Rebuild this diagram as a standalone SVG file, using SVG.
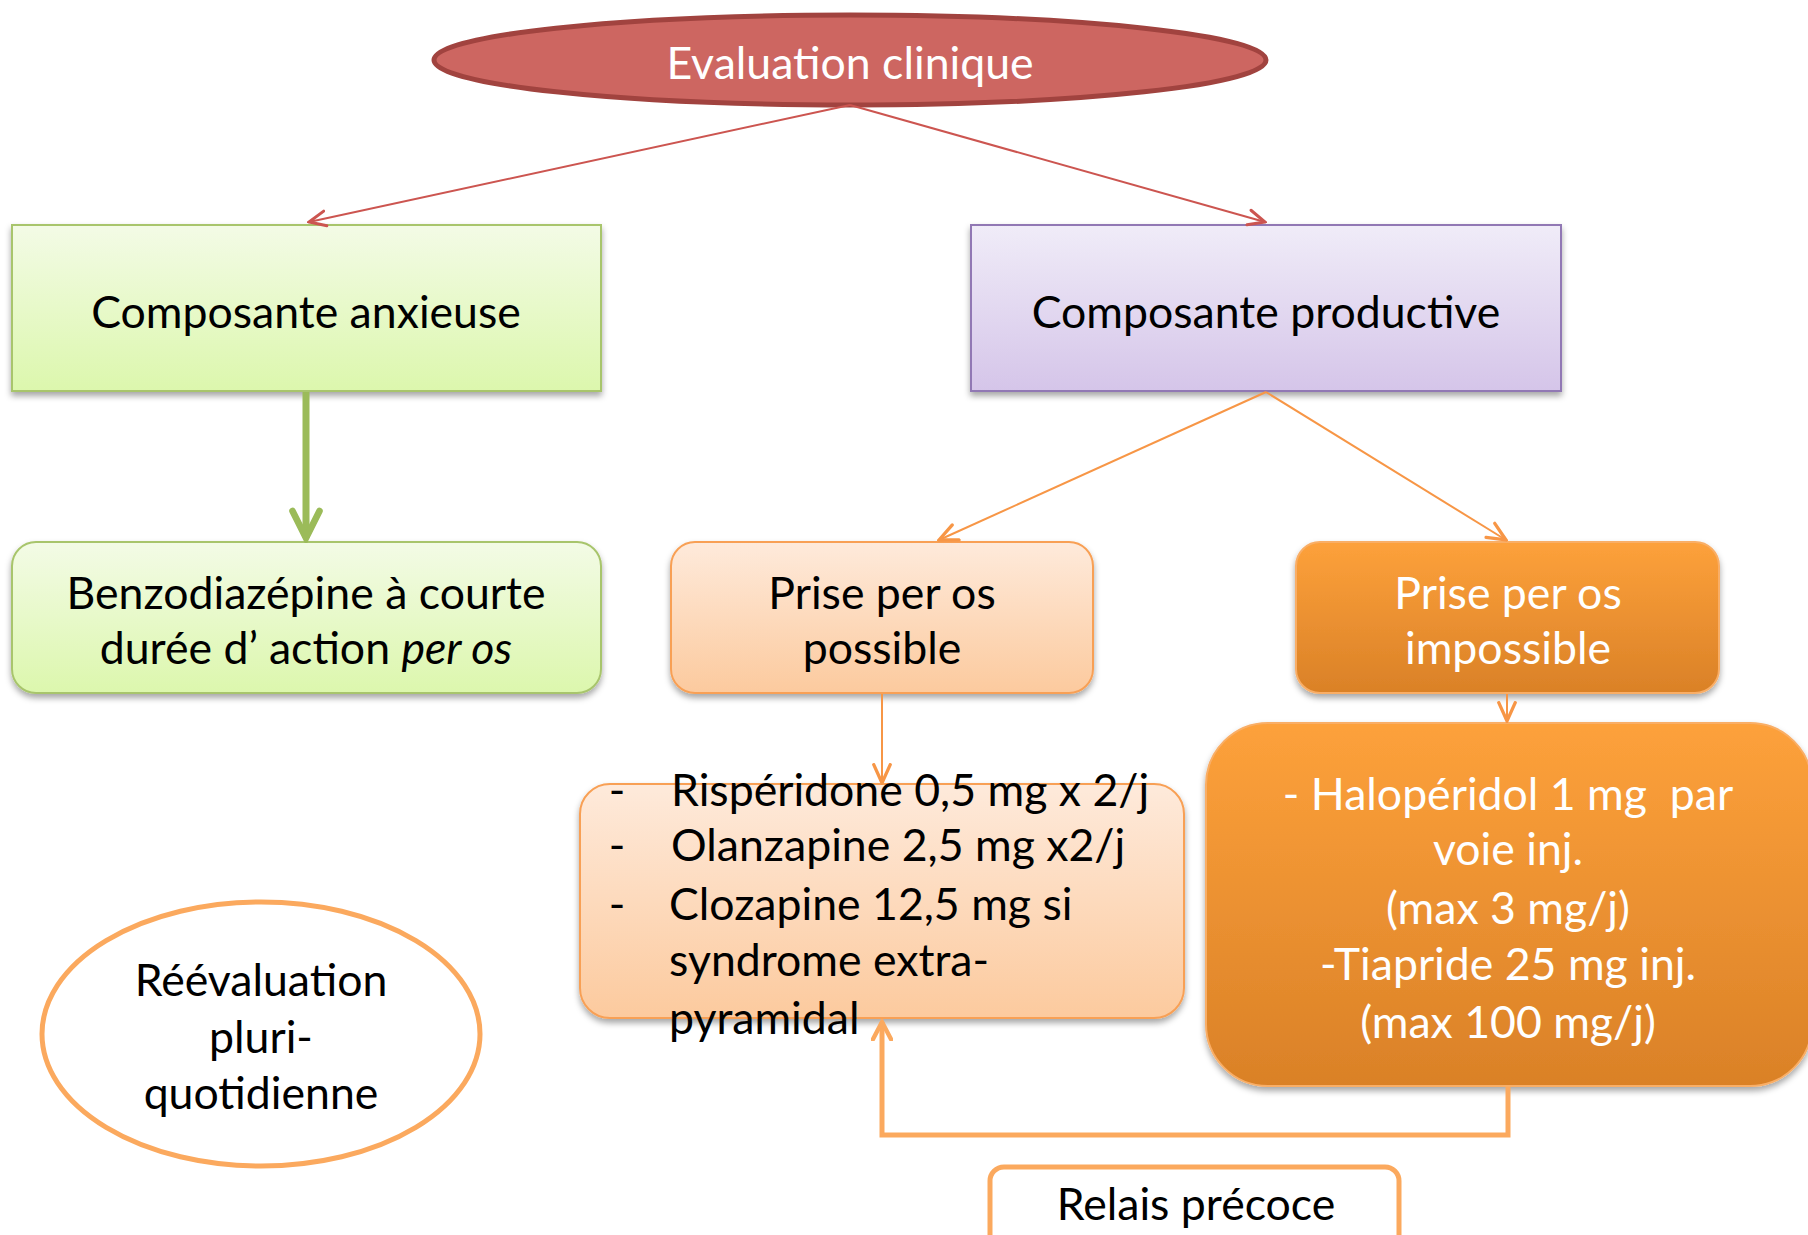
<svg xmlns="http://www.w3.org/2000/svg" width="1808" height="1235" viewBox="0 0 1808 1235">
<style>
text{font-family:Lato,"Liberation Sans",sans-serif;font-size:44.6px;text-anchor:middle;fill:#000}
.w{fill:#fff}
.l{text-anchor:start}
.it{font-style:italic}
.pre{white-space:pre}
</style>
<defs>
<linearGradient id="gGreen" x1="0" y1="0" x2="0" y2="1"><stop offset="0" stop-color="#F3FBE6"/><stop offset="1" stop-color="#DCF7AD"/></linearGradient>
<linearGradient id="gPurple" x1="0" y1="0" x2="0" y2="1"><stop offset="0" stop-color="#F0ECF8"/><stop offset="1" stop-color="#D5C5E9"/></linearGradient>
<linearGradient id="gLight" x1="0" y1="0" x2="0" y2="1"><stop offset="0" stop-color="#FEEADB"/><stop offset="1" stop-color="#FCCA9E"/></linearGradient>
<linearGradient id="gDark" x1="0" y1="0" x2="0" y2="1"><stop offset="0" stop-color="#FDA13B"/><stop offset="1" stop-color="#DA8127"/></linearGradient>
<filter id="sh" x="-10%" y="-10%" width="120%" height="130%"><feDropShadow dx="0" dy="4" stdDeviation="3" flood-color="#000" flood-opacity="0.35"/></filter>
<marker id="aRed" viewBox="0 0 12 12" refX="11" refY="6" markerWidth="20" markerHeight="20" markerUnits="userSpaceOnUse" orient="auto"><path d="M1,1.5 L11,6 L1,10.5" fill="none" stroke="#CC5550" stroke-width="1.8" stroke-linecap="round"/></marker>
<marker id="aOr" viewBox="0 0 12 12" refX="11" refY="6" markerWidth="22" markerHeight="22" markerUnits="userSpaceOnUse" orient="auto"><path d="M1,1.5 L11,6 L1,10.5" fill="none" stroke="#F79646" stroke-width="1.8" stroke-linecap="round"/></marker>
<marker id="aOr2" viewBox="0 0 12 12" refX="10.5" refY="6" markerWidth="22" markerHeight="22" markerUnits="userSpaceOnUse" orient="auto"><path d="M1,1 L10.5,6 L1,11" fill="none" stroke="#FBA95E" stroke-width="2.4" stroke-linecap="round"/></marker>
<marker id="aGreen" viewBox="0 0 12 12" refX="10.5" refY="6" markerWidth="36" markerHeight="36" markerUnits="userSpaceOnUse" orient="auto"><path d="M1.5,1.5 L10.5,6 L1.5,10.5" fill="none" stroke="#9BBB59" stroke-width="2.2" stroke-linecap="round"/></marker>
</defs>

<g id="evaluation">
<ellipse cx="850" cy="60" rx="416" ry="45" fill="#CD6661" stroke="#A1433F" stroke-width="5"/>
<text class="w" x="850" y="79">Evaluation clinique</text>
</g>

<g id="anxieuse">
<rect x="12" y="225" width="589" height="166" fill="url(#gGreen)" stroke="#A8C56C" stroke-width="2" filter="url(#sh)"/>
<text x="306" y="328">Composante anxieuse</text>
</g>

<g id="productive">
<rect x="971" y="225" width="590" height="166" fill="url(#gPurple)" stroke="#9178B4" stroke-width="2" filter="url(#sh)"/>
<text x="1266" y="328">Composante productive</text>
</g>

<g id="benzodiazepine">
<rect x="12" y="542" width="589" height="151" rx="24" fill="url(#gGreen)" stroke="#A8C56C" stroke-width="2" filter="url(#sh)"/>
<text x="306" y="609">Benzodiazépine à courte</text>
<text x="306" y="664">durée d’ action <tspan class="it">per os</tspan></text>
</g>

<g id="possible">
<rect x="671" y="542" width="422" height="151" rx="24" fill="url(#gLight)" stroke="#F8A055" stroke-width="2" filter="url(#sh)"/>
<text x="882" y="609">Prise per os</text>
<text x="882" y="664">possible</text>
</g>

<g id="impossible">
<rect x="1296" y="542" width="423" height="151" rx="24" fill="url(#gDark)" stroke="#F9AE66" stroke-width="2" filter="url(#sh)"/>
<text class="w" x="1508" y="609">Prise per os</text>
<text class="w" x="1508" y="664">impossible</text>
</g>

<g id="per-os-list">
<rect x="580" y="784" width="604" height="234" rx="30" fill="url(#gLight)" stroke="#F8A055" stroke-width="2" filter="url(#sh)"/>
<text x="617" y="806">-</text>
<text class="l" x="671" y="806">Rispéridone 0,5 mg x 2/j</text>
<text x="617" y="861">-</text>
<text class="l" x="671" y="861">Olanzapine 2,5 mg x2/j</text>
<text x="617" y="920">-</text>
<text class="l" x="669" y="920">Clozapine 12,5 mg si</text>
<text class="l" x="669" y="976">syndrome extra-</text>
<text class="l" x="669" y="1034">pyramidal</text>
</g>

<g id="injection">
<rect x="1206" y="723" width="606" height="363" rx="62" fill="url(#gDark)" stroke="#F9AE66" stroke-width="2" filter="url(#sh)"/>
<text class="w pre" x="1508" y="810">- Halopéridol 1 mg  par</text>
<text class="w" x="1508" y="865">voie inj.</text>
<text class="w" x="1508" y="924">(max 3 mg/j)</text>
<text class="w" x="1508" y="980">-Tiapride 25 mg inj.</text>
<text class="w" x="1508" y="1038">(max 100 mg/j)</text>
</g>

<g id="reevaluation">
<ellipse cx="261" cy="1034" rx="219" ry="132" fill="#fff" stroke="#FBA95E" stroke-width="5"/>
<text x="261" y="996">Réévaluation</text>
<text x="261" y="1053">pluri-</text>
<text x="261" y="1109">quotidienne</text>
</g>

<g id="relais">
<rect x="990" y="1167" width="409" height="90" rx="14" fill="#fff" stroke="#FBA95E" stroke-width="5"/>
<text x="1196" y="1220">Relais précoce</text>
</g>

<g id="connectors" fill="none">
<line x1="850" y1="105" x2="309" y2="222" stroke="#CC5550" stroke-width="2" marker-end="url(#aRed)"/>
<line x1="850" y1="105" x2="1265" y2="222" stroke="#CC5550" stroke-width="2" marker-end="url(#aRed)"/>
<line x1="306" y1="392" x2="306" y2="538" stroke="#9BBB59" stroke-width="7" marker-end="url(#aGreen)"/>
<line x1="1266" y1="392" x2="939" y2="540" stroke="#F79646" stroke-width="2" marker-end="url(#aOr)"/>
<line x1="1266" y1="392" x2="1506" y2="540" stroke="#F79646" stroke-width="2" marker-end="url(#aOr)"/>
<line x1="882" y1="694" x2="882" y2="783" stroke="#F79646" stroke-width="2" marker-end="url(#aOr)"/>
<line x1="1507" y1="694" x2="1507" y2="721" stroke="#F79646" stroke-width="2" marker-end="url(#aOr)"/>
<path d="M1508,1087 V1135 H882 V1022" stroke="#FBA95E" stroke-width="5" marker-end="url(#aOr2)"/>
</g>
</svg>
